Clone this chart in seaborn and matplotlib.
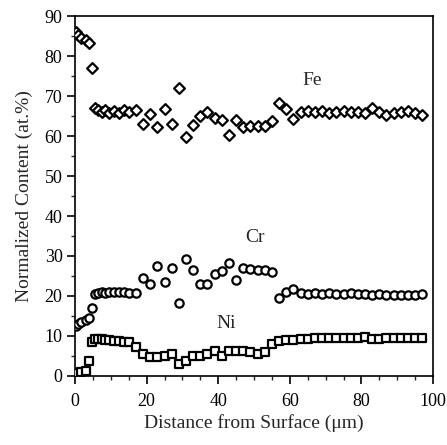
import matplotlib
matplotlib.use("Agg")
import matplotlib.pyplot as plt
import seaborn as sns
import pandas as pd
from matplotlib.ticker import MultipleLocator

# distance from surface (um), shared by all series
distance = [0.3, 0.8, 1.8, 3.0, 3.8, 4.8, 5.6, 6.5, 7.5, 8.5, 9.6, 10.8, 12.2, 13.6, 15.2,
            17, 19, 21, 23, 25, 27, 29, 31, 33, 35, 37, 39, 41, 43, 45, 47, 49, 51, 53, 55,
            57, 59, 61, 63, 65, 67, 69, 71, 73, 75, 77, 79, 81, 83, 85, 87, 89, 91, 93, 95, 97]

fe = [86.0, 85.2, 84.6, 84.0, 83.3, 77.0, 67.0, 66.5, 66.0, 66.5, 65.8, 66.3, 65.8, 66.5, 66.0,
      66.5, 63.0, 65.5, 62.2, 66.8, 63.0, 72.0, 59.7, 62.8, 64.9, 66.0, 64.5, 64.0, 60.3, 64.0,
      62.2, 62.6, 62.5, 62.4, 63.7, 68.3, 66.8, 64.2, 66.0, 66.3, 66.0, 66.2, 65.8, 66.0, 66.2,
      65.9, 66.0, 65.8, 67.0, 66.0, 65.3, 65.8, 66.0, 66.2, 65.8, 65.3]

cr = [12.5, 13.0, 13.5, 14.0, 14.5, 17.0, 20.5, 20.8, 21.0, 20.8, 21.0, 21.0, 21.0, 21.0, 20.8,
      20.8, 24.4, 22.9, 27.5, 23.5, 27.1, 18.2, 29.3, 26.5, 23.1, 23.1, 25.4, 26.3, 28.3, 23.9,
      27.1, 26.7, 26.5, 26.5, 25.9, 19.6, 21.0, 21.7, 20.8, 20.6, 20.8, 20.5, 20.7, 20.5, 20.5,
      20.8, 20.5, 20.4, 20.2, 20.4, 20.3, 20.2, 20.2, 20.2, 20.2, 20.5]

ni = [0.5, 0.8, 1.0, 1.2, 3.8, 8.6, 9.2, 9.2, 9.2, 9.0, 8.9, 8.8, 8.8, 8.6, 8.4,
      7.3, 5.5, 4.7, 4.7, 5.1, 5.5, 3.0, 3.8, 5.1, 5.1, 5.5, 6.3, 5.1, 6.3, 6.3,
      6.3, 5.9, 5.5, 5.9, 8.0, 8.8, 9.0, 9.0, 9.2, 9.3, 9.4, 9.4, 9.4, 9.4, 9.4,
      9.4, 9.4, 9.8, 9.3, 9.3, 9.5, 9.5, 9.5, 9.5, 9.5, 9.5]

series_labels = ["Fe", "Cr", "Ni"]
label_pos = [(66.2, 73.8), (50.3, 34.7), (42.2, 13.0)]

sns.set_style("ticks")
plt.rcParams["font.family"] = ["Liberation Serif", "DejaVu Serif"]

fig = plt.figure(figsize=(4.47, 4.45), dpi=100)
ax = fig.add_axes([75 / 447, 1 - 376 / 445, (433 - 75) / 447, (376 - 16) / 445])

df = pd.DataFrame({"x": distance, "Fe": fe, "Cr": cr, "Ni": ni})
markers = {"Fe": "D", "Cr": "o", "Ni": "s"}
sizes = {"Fe": 30, "Cr": 36, "Ni": 36}
for name in series_labels:
    sns.scatterplot(data=df, x="x", y=name, ax=ax, marker=markers[name], s=sizes[name],
                    facecolor="white", edgecolor="black", linewidth=1.6, zorder=3)

for name, (tx, ty) in zip(series_labels, label_pos):
    ax.text(tx, ty, name, fontsize=14, ha="center", va="center")

ax.set_xlim(0, 100)
ax.set_ylim(0, 90)
ax.xaxis.set_major_locator(MultipleLocator(20))
ax.xaxis.set_minor_locator(MultipleLocator(5))
ax.yaxis.set_major_locator(MultipleLocator(10))
ax.yaxis.set_minor_locator(MultipleLocator(5))
ax.tick_params(which="major", direction="out", length=6, width=1.2, labelsize=13,
               top=False, right=False, colors="black")
ax.tick_params(axis="x", which="major", pad=6)
ax.tick_params(axis="y", which="major", pad=3)
ax.tick_params(which="minor", direction="out", length=3, width=1.0, top=False, right=False)
for sp in ax.spines.values():
    sp.set_visible(True)
    sp.set_linewidth(1.2)
    sp.set_color("black")

ax.set_xlabel("Distance from Surface (μm)", fontsize=14, labelpad=3)
ax.set_ylabel("Normalized Content (at.%)", fontsize=14, labelpad=8)

fig.savefig("out.png", dpi=100)
